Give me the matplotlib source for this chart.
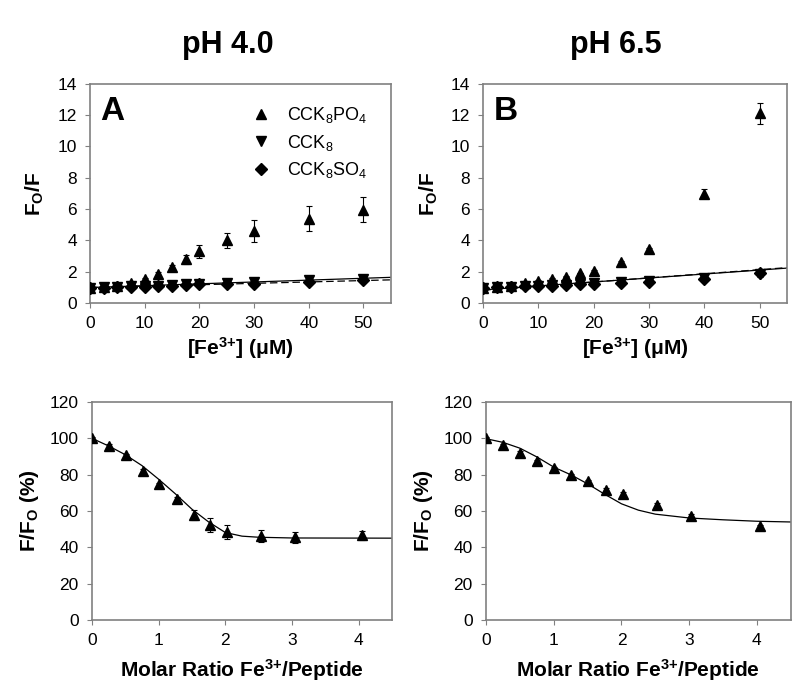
import matplotlib.pyplot as plt

plt.rcParams['font.family'] = ['Liberation Sans', 'DejaVu Sans']
plt.rcParams['mathtext.fontset'] = 'custom'
plt.rcParams['mathtext.rm'] = 'Liberation Sans'
plt.rcParams['mathtext.bf'] = 'Liberation Sans:bold'
plt.rcParams['mathtext.default'] = 'regular'

# titration concentrations, uM
fe_conc = [0, 2.5, 5, 7.5, 10, 12.5, 15, 17.5, 20, 25, 30, 40, 50]

# pH 4.0
po4_a = [1.0, 1.05, 1.1, 1.28, 1.53, 1.87, 2.3, 2.8, 3.3, 4.0, 4.6, 5.4, 5.96]
po4_a_err = [0.05, 0.05, 0.05, 0.05, 0.1, 0.1, 0.15, 0.3, 0.4, 0.5, 0.7, 0.78, 0.8]
cck8_a = [1.0, 1.02, 1.05, 1.08, 1.1, 1.12, 1.15, 1.2, 1.22, 1.3, 1.38, 1.45, 1.55]
so4_a = [1.0, 1.0, 1.02, 1.05, 1.06, 1.1, 1.12, 1.15, 1.2, 1.2, 1.25, 1.35, 1.45]
fit_x = [0, 55]
fit_cck8_a = [1.0, 1.65]
fit_so4_a = [1.0, 1.49]

# pH 6.5
po4_b = [1.0, 1.05, 1.1, 1.28, 1.41, 1.54, 1.7, 1.9, 2.07, 2.63, 3.44, 6.99, 12.1]
po4_b_err = [0.05, 0.05, 0.05, 0.05, 0.05, 0.05, 0.05, 0.05, 0.05, 0.08, 0.1, 0.27, 0.66]
cck8_b = [1.0, 1.02, 1.05, 1.08, 1.12, 1.15, 1.18, 1.22, 1.26, 1.33, 1.4, 1.6, 1.86]
cck8_b_err = [0.03, 0.03, 0.03, 0.03, 0.03, 0.03, 0.03, 0.03, 0.05, 0.05, 0.05, 0.1, 0.2]
so4_b = [1.0, 1.02, 1.05, 1.08, 1.1, 1.12, 1.15, 1.2, 1.25, 1.26, 1.37, 1.54, 1.95]
fit_cck8_b = [0.85, 2.24]
fit_so4_b = [0.83, 2.27]

# molar ratio titrations
ratio_a = [0, 0.26, 0.51, 0.76, 1.01, 1.27, 1.53, 1.77, 2.03, 2.54, 3.04, 4.05]
ff_a = [100, 96, 90.6, 82.2, 74.7, 66.8, 57.8, 52.3, 48.6, 46.4, 45.5, 46.6]
ff_a_err = [1, 1, 1, 1, 1, 1, 2.6, 3.8, 3.7, 3.4, 2.9, 2.4]
curve_a_x = [0, 0.25, 0.5, 0.75, 1.0, 1.25, 1.5, 1.75, 2.0, 2.25, 2.5, 3.0, 4.5]
curve_a_y = [100, 95.8, 91, 85, 77.5, 69.5, 61, 54, 48.2, 46.2, 45.6, 45.2, 45.1]

ratio_b = [0, 0.25, 0.5, 0.76, 1.01, 1.26, 1.51, 1.77, 2.02, 2.53, 3.03, 4.05]
ff_b = [100.2, 96.3, 92, 87.3, 83.6, 79.7, 76.5, 71.7, 69.6, 63.5, 57.5, 51.8]
ff_b_err = [0.8, 0.8, 0.8, 0.8, 0.8, 0.8, 0.8, 0.8, 0.8, 0.8, 0.8, 0.8]
curve_b_x = [0, 0.25, 0.5, 0.75, 1.0, 1.25, 1.5, 1.75, 2.0, 2.25, 2.5, 3.0, 3.5, 4.0, 4.5]
curve_b_y = [99.8, 97.8, 94.6, 89.8, 84.2, 80.0, 75.0, 69.3, 64.0, 60.5, 58.3, 56.2, 55.2, 54.4, 54.0]

fig = plt.figure(figsize=(8, 6.86), dpi=100)
ax_a = fig.add_axes([0.1125, 0.558, 0.376, 0.32])
ax_b = fig.add_axes([0.604, 0.558, 0.380, 0.32])
ax_c = fig.add_axes([0.115, 0.096, 0.375, 0.318])
ax_d = fig.add_axes([0.6075, 0.096, 0.381, 0.318])

lab_font = dict(fontsize=15, fontweight='bold')
eb = dict(color='black', ecolor='black', elinewidth=0.8, capsize=2.5, capthick=0.8, linestyle='none')
fe_sup = r'Fe$^{3{+}}$'


def style(ax):
    for s in ax.spines.values():
        s.set_color('#808080')
        s.set_linewidth(1.2)
    ax.tick_params(direction='out', length=3.5, color='#808080', labelsize=12.5, pad=6)


def top_panel(ax, po4, po4_err, cck8, cck8_err, so4, fit1, fit2, letter):
    ax.plot(fit_x, fit1, color='black', lw=0.9, zorder=2)
    ax.plot(fit_x, fit2, color='black', lw=0.9, ls=(0, (6, 3)), zorder=2)
    ax.errorbar(fe_conc, po4, yerr=po4_err, marker='^', ms=7, label=r'CCK$_8$PO$_4$', zorder=3, **eb)
    ax.errorbar(fe_conc, cck8, yerr=cck8_err, marker='v', ms=7, label=r'CCK$_8$', zorder=4, **eb)
    ax.errorbar(fe_conc, so4, marker='D', ms=6, label=r'CCK$_8$SO$_4$', zorder=5, **eb)
    ax.set_xlim(0, 55)
    ax.set_ylim(0, 14)
    ax.set_xticks([0, 10, 20, 30, 40, 50])
    ax.set_yticks(range(0, 15, 2))
    ax.set_xlabel('[' + fe_sup + r'] ($\mu$M)', labelpad=3, **lab_font)
    ax.set_ylabel(r'F$_O$/F', labelpad=8, **lab_font)
    ax.text(0.035, 0.875, letter, transform=ax.transAxes, fontsize=24, fontweight='bold', va='center')
    style(ax)


top_panel(ax_a, po4_a, po4_a_err, cck8_a, None, so4_a, fit_cck8_a, fit_so4_a, 'A')
top_panel(ax_b, po4_b, po4_b_err, cck8_b, cck8_b_err, so4_b, fit_cck8_b, fit_so4_b, 'B')

handles, labels = ax_a.get_legend_handles_labels()
handles = [h[0] for h in handles]
ax_a.legend(handles, labels, loc='upper right', frameon=False, fontsize=13,
            handletextpad=0.8, labelspacing=0.4, handlelength=1.2,
            bbox_to_anchor=(0.975, 0.975))


def bottom_panel(ax, rx, ff, err, cx, cy):
    ax.plot(cx, cy, color='black', lw=0.9, zorder=2)
    ax.errorbar(rx, ff, yerr=err, marker='^', ms=7, zorder=3, **eb)
    ax.set_xlim(0, 4.5)
    ax.set_ylim(0, 120)
    ax.set_xticks([0, 1, 2, 3, 4])
    ax.set_yticks(range(0, 121, 20))
    ax.set_xlabel('Molar Ratio ' + fe_sup + '/Peptide', labelpad=6, **lab_font)
    ax.set_ylabel(r'F/F$_O$ (%)', labelpad=6, **lab_font)
    style(ax)


bottom_panel(ax_c, ratio_a, ff_a, ff_a_err, curve_a_x, curve_a_y)
bottom_panel(ax_d, ratio_b, ff_b, ff_b_err, curve_b_x, curve_b_y)

fig.text(0.285, 0.935, 'pH 4.0', ha='center', va='center', fontsize=22, fontweight='bold')
fig.text(0.77, 0.935, 'pH 6.5', ha='center', va='center', fontsize=22, fontweight='bold')

fig.savefig('out.png', dpi=100)
